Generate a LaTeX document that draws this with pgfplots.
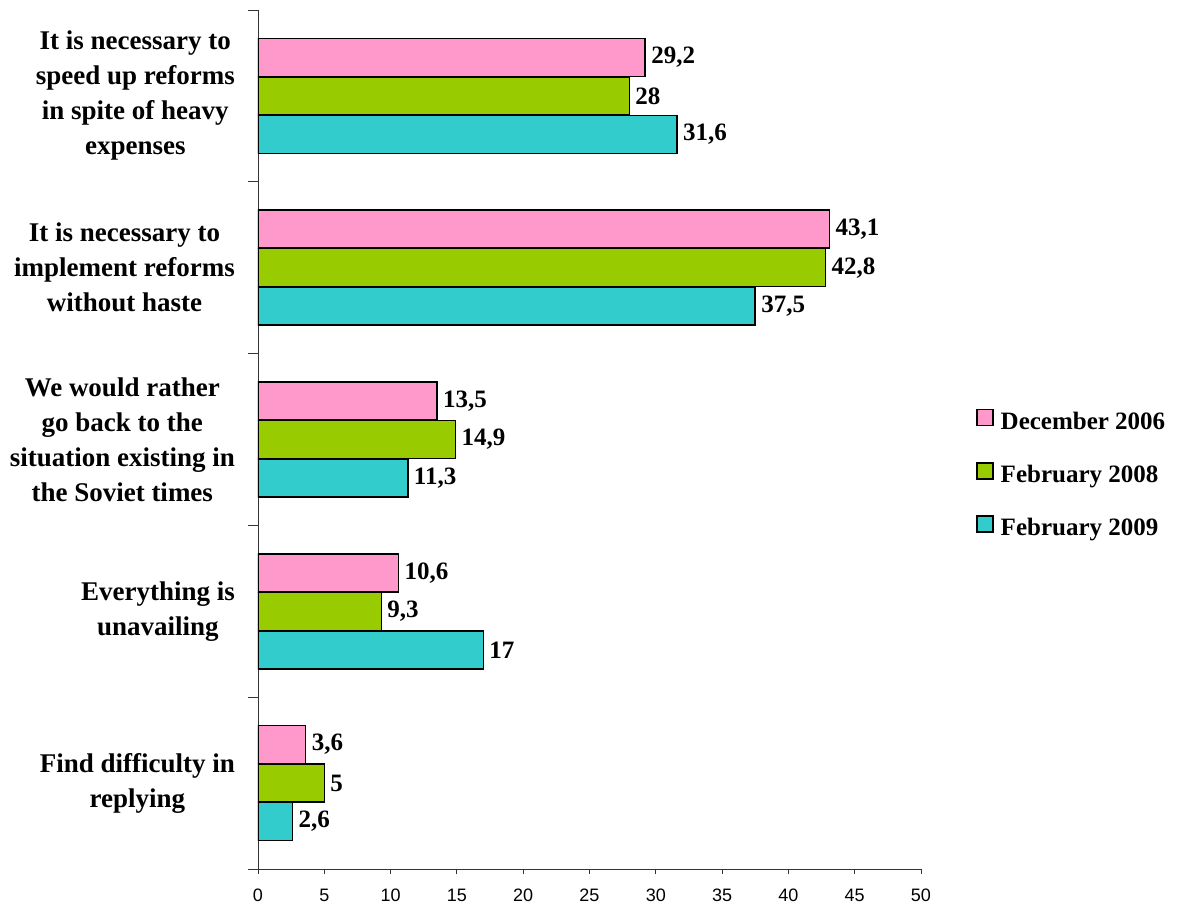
\documentclass[border=0pt]{standalone}
\usepackage{fontspec}
\setmainfont{Liberation Serif}
\newfontfamily\arial{Liberation Sans}
\usepackage{pgfplots}
\pgfplotsset{compat=1.18}
\definecolor{cpink}{HTML}{FF99CC}
\definecolor{cgreen}{HTML}{99CC00}
\definecolor{cteal}{HTML}{33CCCC}
\begin{document}
\begin{tikzpicture}
\useasboundingbox (-258bp,-42bp) rectangle (921bp,869bp);
\begin{axis}[
  at={(0,0)}, anchor=south west,
  scale only axis, width=663bp, height=859bp,
  xbar, bar width=38bp,
  xmin=0, xmax=50, ymin=-0.5, ymax=4.5,
  axis x line=bottom, axis y line=left,
  axis line style={-, black!80, line width=0.9bp},
  tick align=outside,
  major tick length=5bp,
  xtick={0,5,...,50},
  xtick style={black!80, line width=0.9bp},
  xticklabel style={font=\fontsize{18bp}{20bp}\selectfont\arial, inner sep=0pt, anchor=north, text height=13bp, text depth=0bp, yshift=-14bp},
  /pgf/number format/.cd, use comma, assume math mode=true, /pgfplots/.cd,
  ytick={0,1,2,3,4},
  yticklabels={{Find difficulty in\\replying},{Everything is\\unavailing},{We would rather\\go back to the\\situation existing in\\the Soviet times},{It is necessary to\\implement reforms\\without haste},{It is necessary to\\speed up reforms\\in spite of heavy\\expenses}},
  ytick style={draw=none},
  yticklabel style={align=center, font=\fontsize{27bp}{35bp}\selectfont\bfseries, inner sep=0pt, xshift=-18bp},
  extra y ticks={-0.5,0.5,1.5,2.5,3.5,4.5},
  extra y tick labels={},
  extra y tick style={major tick length=10bp, ytick style={draw=black!80, line width=0.9bp}},
  nodes near coords,
  every node near coord/.append style={font=\fontsize{25bp}{30bp}\selectfont\bfseries, anchor=west, xshift=2bp},
  every axis plot/.append style={draw=black, line width=1.5bp},
  legend style={at={(1.083,0.459)}, anchor=west, draw=none, fill=none, inner sep=0pt,
    row sep=28bp, column sep=7bp,
    nodes={inner sep=0pt, text height=16bp, text depth=5bp},
    font=\fontsize{25bp}{30bp}\selectfont\bfseries},
  legend cell align=left,
  legend image code/.code={\draw[#1, line width=1.5bp] (0bp,-2bp) rectangle (16bp,14bp);},
]
\addplot[fill=cpink, bar shift=38.5bp] coordinates {(29.2,4) (43.1,3) (13.5,2) (10.6,1) (3.6,0)};
\addplot[fill=cgreen, bar shift=0bp] coordinates {(28,4) (42.8,3) (14.9,2) (9.3,1) (5,0)};
\addplot[fill=cteal, bar shift=-38.5bp] coordinates {(31.6,4) (37.5,3) (11.3,2) (17,1) (2.6,0)};
\legend{December 2006, February 2008, February 2009}
\end{axis}
\end{tikzpicture}
\end{document}
